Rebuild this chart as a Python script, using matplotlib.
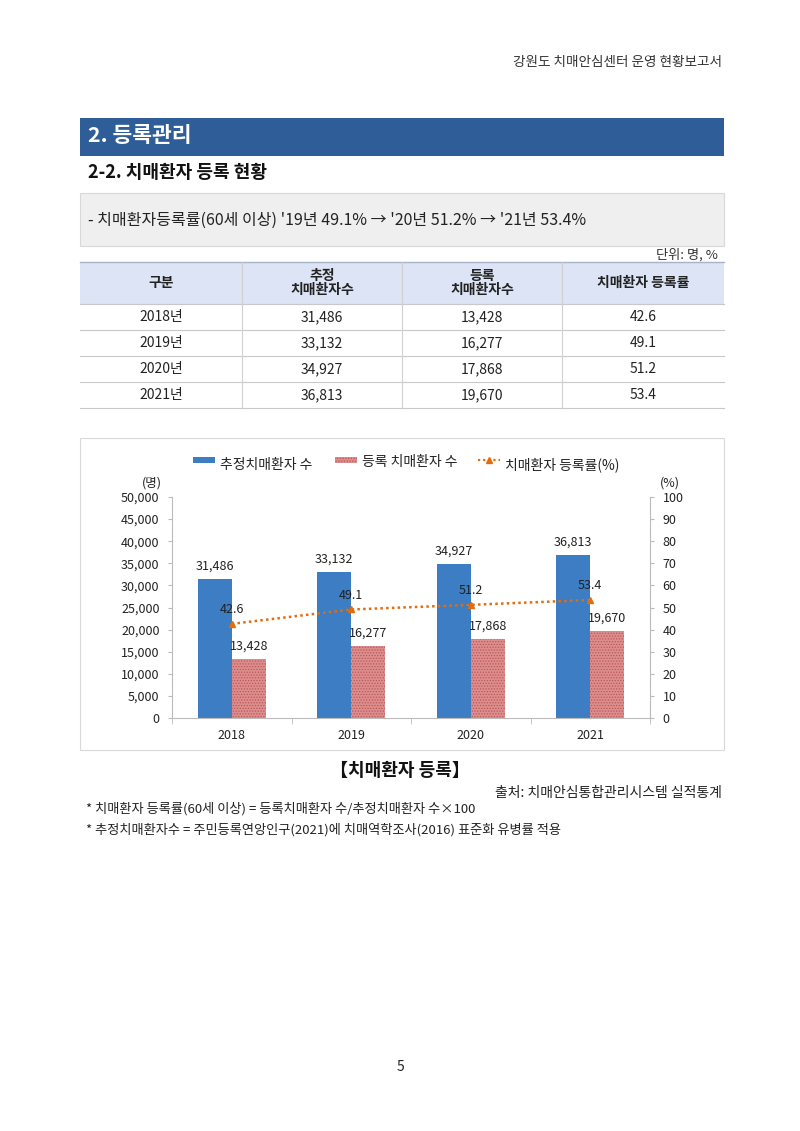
import numpy as np
import matplotlib
matplotlib.use("Agg")
import matplotlib.pyplot as plt
from matplotlib.patches import Rectangle

plt.rcParams['font.family'] = ['Noto Sans CJK KR', 'DejaVu Sans']

# data
years = ['2018', '2019', '2020', '2021']
estimated = [31486, 33132, 34927, 36813]
registered = [13428, 16277, 17868, 19670]
rate = [42.6, 49.1, 51.2, 53.4]

col_heads = ['구분', '추정\n치매환자수', '등록\n치매환자수', '치매환자 등록률']
legend_labels = ['추정치매환자 수', '등록 치매환자 수', '치매환자 등록률(%)']

W, H = 800, 1131
fig = plt.figure(figsize=(W / 100, H / 100), dpi=100)
fig.patch.set_facecolor('white')


def txt(x, y, s, **kw):
    kw.setdefault('va', 'center')
    kw.setdefault('color', '#222222')
    fig.text(x / W, 1 - y / H, s, **kw)


def rect(x0, y0, x1, y1, **kw):
    kw.setdefault('zorder', -1)
    fig.add_artist(Rectangle((x0 / W, 1 - y1 / H), (x1 - x0) / W, (y1 - y0) / H,
                             transform=fig.transFigure, **kw))


def hline(x0, x1, y, color='#D0D0D0', lw=0.8):
    fig.add_artist(plt.Line2D([x0 / W, x1 / W], [1 - y / H, 1 - y / H],
                              transform=fig.transFigure, color=color, lw=lw))


def vline(x, y0, y1, color='#D0D0D0', lw=0.8):
    fig.add_artist(plt.Line2D([x / W, x / W], [1 - y0 / H, 1 - y1 / H],
                              transform=fig.transFigure, color=color, lw=lw))


# page header
txt(722, 62, '강원도 치매안심센터 운영 현황보고서', ha='right', fontsize=9.8, color='#333333')

# section title bar
rect(80, 118, 724, 156, facecolor='#2E5D98', edgecolor='none')
txt(88, 136, '2. 등록관리', fontsize=15.5, color='white', fontweight='bold')
txt(88, 173, '2-2. 치매환자 등록 현황', fontsize=13, fontweight='bold', color='#111111')

# summary box
rect(80, 193, 724, 246, facecolor='#EFEFEF', edgecolor='#D8D8D8', lw=0.8)
summary = "- 치매환자등록률(60세 이상) '19년 {:.1f}% → '20년 {:.1f}% → '21년 {:.1f}%".format(*rate[1:])
txt(88, 220, summary, fontsize=11.5, color='#222222')

txt(718, 255, '단위: 명, %', ha='right', fontsize=9.5, color='#333333')

# table
cols = [80, 242, 402, 562, 724]
head_top, head_bot = 262, 304
row_h = 26
rect(80, head_top, 724, head_bot, facecolor='#DCE4F5', edgecolor='none')
hline(80, 724, head_top, color='#A8B2C8', lw=1.0)
for j, h in enumerate(col_heads):
    cx = (cols[j] + cols[j + 1]) / 2
    txt(cx, (head_top + head_bot) / 2, h, ha='center', fontsize=10,
        fontweight='bold', color='#222222', linespacing=1.0)
for i, y in enumerate(years):
    y0 = head_bot + i * row_h
    cells = [y + '년', f'{estimated[i]:,}', f'{registered[i]:,}', f'{rate[i]:.1f}']
    for j, c in enumerate(cells):
        cx = (cols[j] + cols[j + 1]) / 2
        txt(cx, y0 + row_h / 2, c, ha='center', fontsize=10, color='#222222')
    hline(80, 724, y0, color='#C8C8C8')
table_bot = head_bot + len(years) * row_h
hline(80, 724, table_bot, color='#C8C8C8')
for x in cols[1:-1]:
    vline(x, head_top, table_bot, color='#D0D0D0')

# chart frame
rect(80, 438, 724, 750, facecolor='white', edgecolor='#D9D9D9', lw=0.8)

ax_l, ax_r, ax_t, ax_b = 172, 650, 497, 718
ax = fig.add_axes([ax_l / W, 1 - ax_b / H, (ax_r - ax_l) / W, (ax_b - ax_t) / H])
ax.patch.set_alpha(0)
ax2 = ax.twinx()

x = np.arange(len(years))
bw = 0.285
blue = '#3C7DC4'
pink = '#DC8E8E'
b1 = ax.bar(x - bw / 2, estimated, bw, color=blue, edgecolor='none')
plt.rcParams['hatch.linewidth'] = 0.6
b2 = ax.bar(x + bw / 2, registered, bw, facecolor=pink, edgecolor='#C05555',
            hatch='......', lw=0)
ax.set_xlim(-0.5, len(years) - 0.5)
ax.set_ylim(0, 50000)
ax.set_yticks(np.arange(0, 50001, 5000))
ax.set_yticklabels([f'{v:,}' for v in range(0, 50001, 5000)])
ax.set_xticks(x)
ax.set_xticklabels(years)
ax.set_xticks(np.arange(-0.5, len(years), 1), minor=True)
ax.tick_params(axis='x', which='major', length=0, pad=8, labelsize=9, labelcolor='#222222')
ax.tick_params(axis='x', which='minor', length=4, color='#BBBBBB', direction='out')
ax.tick_params(axis='y', length=3, color='#BBBBBB', labelsize=9, labelcolor='#222222', pad=6)
for s in ['top', 'right']:
    ax.spines[s].set_visible(False)
for s in ['left', 'bottom']:
    ax.spines[s].set_color('#BBBBBB')

for i in range(len(years)):
    ax.text(x[i] - bw / 2, estimated[i] + 1400, f'{estimated[i]:,}', ha='center',
            va='bottom', fontsize=9, color='#222222')
    ax.text(x[i] + bw / 2, registered[i] + 1400, f'{registered[i]:,}', ha='center',
            va='bottom', fontsize=9, color='#222222')

orange = '#E46C0A'
ax2.plot(x, rate, ls=(0, (1, 1.3)), lw=1.8, color=orange, marker='^', ms=5,
         markerfacecolor=orange, markeredgecolor=orange)
ax2.set_ylim(0, 100)
ax2.set_yticks(np.arange(0, 101, 10))
ax2.tick_params(axis='y', length=3, color='#BBBBBB', labelsize=9, labelcolor='#222222', pad=6)
for s in ['top', 'left', 'bottom']:
    ax2.spines[s].set_visible(False)
ax2.spines['right'].set_color('#BBBBBB')
for i in range(len(years)):
    ax2.text(x[i], rate[i] + 3.5, f'{rate[i]:.1f}', ha='center', va='bottom',
             fontsize=9, color='#222222')

# axis unit labels
txt(162, 483, '(명)', ha='right', fontsize=9)
txt(660, 483, '(%)', ha='left', fontsize=9)

# legend (drawn manually)
ly = 462
rect(193, ly - 5, 215, ly + 1, facecolor=blue, edgecolor='none', zorder=2)
txt(220, ly + 3, legend_labels[0], fontsize=10)
rect(335, ly - 5, 357, ly + 1, facecolor=pink, edgecolor='#C05555', hatch='......',
     lw=0, zorder=2)
txt(362, ly, legend_labels[1], fontsize=10)
fig.add_artist(plt.Line2D([478 / W, 500 / W], [1 - (ly - 2) / H] * 2, transform=fig.transFigure,
                          ls=(0, (1, 1.3)), lw=1.6, color=orange))
fig.add_artist(plt.Line2D([489 / W], [1 - (ly - 2) / H], transform=fig.transFigure,
                          marker='^', ms=5, color=orange, ls='none'))
txt(505, ly + 3, legend_labels[2], fontsize=10)

# caption and notes
txt(400, 770, '【치매환자 등록】', ha='center', fontsize=13, fontweight='bold', color='#111111')
txt(722, 793, '출처: 치매안심통합관리시스템 실적통계', ha='right', fontsize=10, color='#222222')
txt(86, 809, '* 치매환자 등록률(60세 이상) = 등록치매환자 수/추정치매환자 수×100', fontsize=9.5)
txt(86, 830, '* 추정치매환자수 = 주민등록연앙인구(2021)에 치매역학조사(2016) 표준화 유병률 적용', fontsize=9.5)

txt(400, 1067, '5', ha='center', fontsize=10)

fig.savefig('out.png', dpi=100)
